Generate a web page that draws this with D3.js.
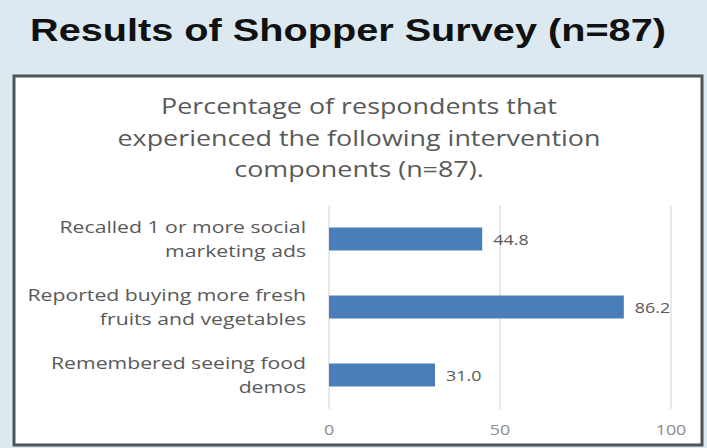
<!DOCTYPE html>
<html>
<head>
<meta charset="utf-8">
<script src="https://cdn.jsdelivr.net/npm/d3@7"></script>
<style>
  html, body { margin: 0; padding: 0; background: #dce9f0; }
  svg { display: block; }
</style>
</head>
<body>
<svg id="chart" width="707" height="448"></svg>
<script>
// Survey results
const pageTitle = "Results of Shopper Survey (n=87)";
const chartTitle = [
  "Percentage of respondents that",
  "experienced the following intervention",
  "components (n=87)."
];
const categories = [
  ["Recalled 1 or more social", "marketing ads"],
  ["Reported buying more fresh", "fruits and vegetables"],
  ["Remembered seeing food", "demos"]
];
const values = [44.8, 86.2, 31.0];
const xTicks = [0, 50, 100];

const W = 707, H = 448;
const SX = 1.28; // horizontal stretch applied to all lettering
const svg = d3.select("#chart");

// slide background and framed chart panel
svg.append("rect").attr("x", 0).attr("y", 0).attr("width", W).attr("height", H).attr("fill", "#dce9f0");
svg.append("rect").attr("x", 14).attr("y", 76).attr("width", 688).attr("height", 369)
  .attr("fill", "#ffffff").attr("stroke", "#4f5456").attr("stroke-width", 3);

// text drawn inside a horizontally stretched group
function label(parent, x, y, str, o) {
  const g = parent.append("g").attr("transform", `translate(${x},${y}) scale(${o.sx || SX},1)`);
  return g.append("text")
    .attr("x", 0).attr("y", 0)
    .attr("text-anchor", o.anchor || "start")
    .attr("dominant-baseline", o.baseline || "alphabetic")
    .attr("font-family", o.family || "'Open Sans', sans-serif")
    .attr("font-size", o.size)
    .attr("font-weight", o.weight || "normal")
    .attr("fill", o.fill || "#595959")
    .text(str);
}

label(svg, 30, 41, pageTitle, {size: 32, weight: "bold", family: "'Liberation Sans', Arial, sans-serif", fill: "#111111", sx: 1.24});

chartTitle.forEach((t, i) => {
  label(svg, 359, 114 + i * 31.5, t, {size: 21, anchor: "middle", fill: "#595959"});
});

// scales
const x = d3.scaleLinear().domain([0, 100]).range([329, 671]);
const y = d3.scaleBand().domain(d3.range(categories.length)).range([205, 409])
  .paddingInner(0.662).paddingOuter(0.331);

// vertical gridlines
svg.append("g").selectAll("line").data(xTicks).join("line")
  .attr("x1", d => x(d)).attr("x2", d => x(d))
  .attr("y1", 205).attr("y2", 409)
  .attr("stroke", "#d9d9d9").attr("stroke-width", 1.2);

// x tick labels
const axisG = svg.append("g");
xTicks.forEach(t => {
  label(axisG, x(t), 430, String(t), {size: 14, anchor: "middle", baseline: "central", fill: "#8c8c8c"});
});

// bars
svg.append("g").selectAll("rect").data(values).join("rect")
  .attr("x", x(0))
  .attr("y", (d, i) => y(i))
  .attr("width", d => x(d) - x(0))
  .attr("height", y.bandwidth())
  .attr("fill", "#4a7ebb");

// value labels
const valG = svg.append("g");
values.forEach((v, i) => {
  label(valG, x(v) + 11, y(i) + y.bandwidth() / 2 + 1, v.toFixed(1), {size: 14, baseline: "central", fill: "#595959"});
});

// category labels
const catG = svg.append("g");
categories.forEach((lines, i) => {
  const cy = y(i) + y.bandwidth() / 2;
  lines.forEach((ln, j) => {
    label(catG, 306, cy + (j - (lines.length - 1) / 2) * 24.5, ln, {size: 16.2, anchor: "end", baseline: "central", fill: "#595959", sx: 1.31});
  });
});
</script>
</body>
</html>
